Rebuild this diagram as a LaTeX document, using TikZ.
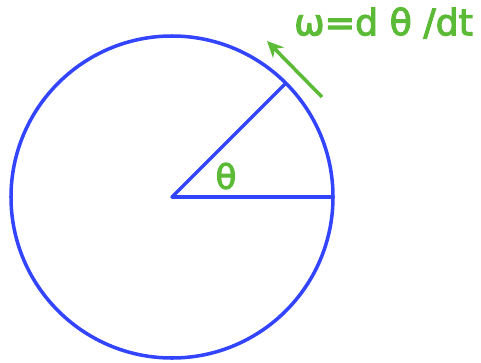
\documentclass[tikz,border=0pt]{standalone}
\usepackage{fontspec}
\setmainfont{DejaVu Sans}
\newfontfamily\labelfont[FakeBold=3]{DejaVu Sans}
\usepackage{tikz}
\usetikzlibrary{arrows.meta, calc}
\definecolor{ringblue}{HTML}{3344FF}
\definecolor{leafgreen}{HTML}{5CBB36}

\begin{document}
\begin{tikzpicture}[x=0.03cm, y=-0.03cm]
\useasboundingbox (0,0) rectangle (481,362);
\coordinate (O) at (172,197);
\coordinate (A) at (333,197);
\coordinate (P) at ($(O)+(-45:161)$);
\coordinate (tail) at (322,97);
\coordinate (head) at (267,41);
\draw[ringblue, line width=3pt] (O) circle[radius=161];
\draw[ringblue, line width=3pt, line join=round] (A) -- (O) -- (P);
\draw[leafgreen, line width=3pt, -{Stealth[length=14pt, width=13pt]}] (tail) -- (head);
\node[leafgreen, font=\labelfont\fontsize{29}{30}\selectfont] (theta) at (226,176) {θ};
\node[leafgreen, font=\labelfont\fontsize{31}{32}\selectfont, anchor=west, inner sep=0pt] (rate) at (294,23) {ω=d θ /dt};
\end{tikzpicture}
\end{document}
